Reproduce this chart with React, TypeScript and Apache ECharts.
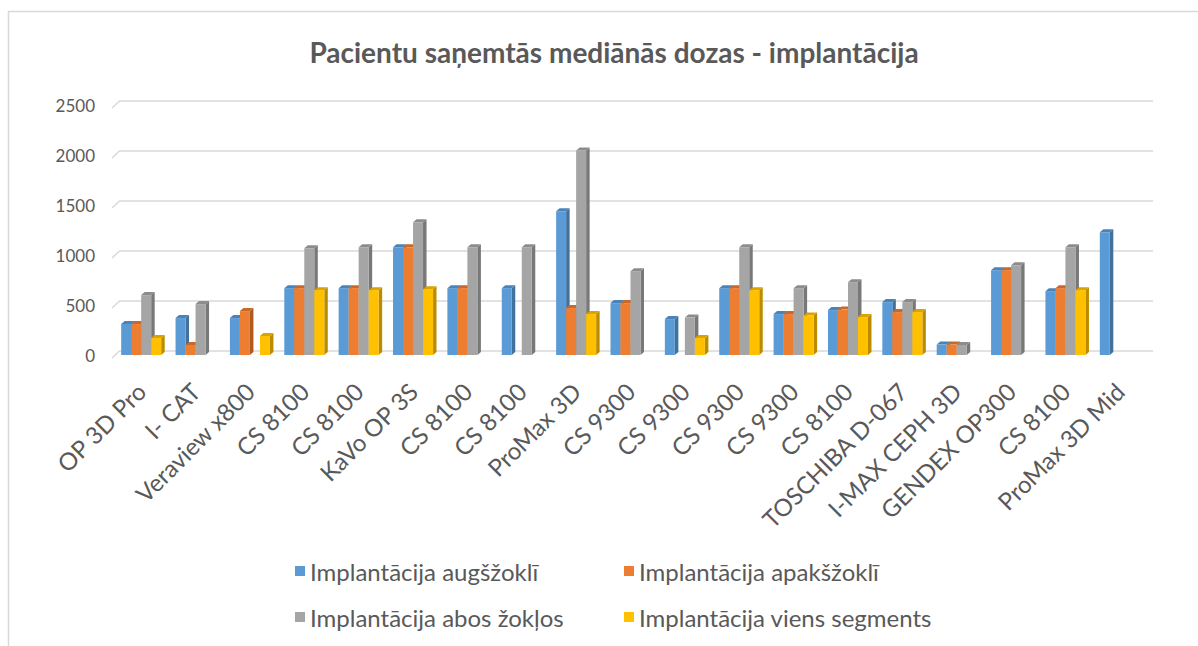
import React, { useEffect, useRef } from "react";
import * as echarts from "echarts";

const categories = [
  "OP 3D Pro", "I- CAT", "Veraview x800", "CS 8100", "CS 8100", "KaVo OP 3S",
  "CS 8100", "CS 8100", "ProMax 3D", "CS 9300", "CS 9300", "CS 9300", "CS 9300",
  "CS 8100", "TOSCHIBA D-067", "I-MAX CEPH 3D", "GENDEX OP300", "CS 8100", "ProMax 3D Mid",
];

const seriesNames = [
  "Implantācija augšžoklī",
  "Implantācija apakšžoklī",
  "Implantācija abos žokļos",
  "Implantācija viens segments",
];

const upperJaw = [310, 370, 370, 670, 670, 1080, 670, 670, 1440, 520, 360, 670, 410, 450, 530, 105, 850, 640, 1230];
const lowerJaw = [310, 100, 440, 670, 670, 1080, 670, null, 470, 520, null, 670, 410, 455, 430, 105, 850, 670, null];
const bothJaws = [600, 510, null, 1070, 1080, 1330, 1080, 1080, 2050, 840, 375, 1080, 670, 730, 530, 100, 900, 1080, null];
const oneSegment = [170, null, 190, 650, 650, 660, null, null, 410, null, 170, 650, 395, 380, 430, null, null, 650, null];

const yTicks = [0, 500, 1000, 1500, 2000, 2500];

const seriesValues = [upperJaw, lowerJaw, bothJaws, oneSegment];
const frontColors = ["#5B9BD5", "#ED7D31", "#A5A5A5", "#FFC000"];
const sideColors = ["#41719C", "#AE5A21", "#787878", "#BC8C00"];
const topColors = ["#4A83B8", "#C8692A", "#8C8C8C", "#D9A300"];

const FONT = "Lato, 'Noto Sans', sans-serif";
const TEXT = "#595959";

export default function App() {
  const ref = useRef<HTMLDivElement>(null);
  useEffect(() => {
    if (!ref.current) return;
    const chart = echarts.init(ref.current, undefined, { renderer: "svg" });

    const barSeries = seriesValues.map((vals, slot) => ({
      type: "custom",
      name: seriesNames[slot],
      xAxisIndex: 1,
      yAxisIndex: 1,
      itemStyle: { color: frontColors[slot] },
      data: vals
        .map((v, i) => [i, v])
        .filter((d) => d[1] !== null && d[1] !== undefined),
      renderItem: (params: any, api: any) => {
        const idx = api.value(0);
        const v = api.value(1);
        if (v == null || isNaN(v)) return null;
        const base = api.coord([idx, 0]);
        const top = api.coord([idx, v]);
        const catW = api.size([1, 0])[0];
        const bw = catW * 0.184;
        const x0 = base[0] - 2 * bw + slot * bw;
        const yb = base[1];
        const yt = top[1];
        const dx = 3.5;
        const dy = 3;
        return {
          type: "group",
          children: [
            {
              type: "polygon",
              shape: { points: [[x0 + bw, yt], [x0 + bw + dx, yt - dy], [x0 + bw + dx, yb - dy], [x0 + bw, yb]] },
              style: { fill: sideColors[slot] },
            },
            {
              type: "polygon",
              shape: { points: [[x0, yt], [x0 + dx, yt - dy], [x0 + bw + dx, yt - dy], [x0 + bw, yt]] },
              style: { fill: topColors[slot] },
            },
            {
              type: "rect",
              shape: { x: x0, y: yt, width: bw, height: yb - yt },
              style: { fill: frontColors[slot] },
            },
          ],
        };
      },
    }));

    const floorSeries = {
      type: "custom",
      xAxisIndex: 0,
      yAxisIndex: 0,
      silent: true,
      data: yTicks.map((t) => [0, t]),
      renderItem: (params: any, api: any) => {
        const y = api.coord([0, api.value(1)])[1];
        const x = params.coordSys.x;
        return {
          type: "line",
          shape: { x1: x - 8, y1: y + 7.5, x2: x, y2: y },
          style: { stroke: "#D9D9D9", lineWidth: 1.5 },
        };
      },
    };

    const legendCommon = {
      orient: "vertical",
      icon: "rect",
      itemWidth: 10,
      itemHeight: 10,
      itemGap: 22,
      textStyle: { fontFamily: FONT, fontSize: 24, color: TEXT },
    };

    chart.setOption({
      animation: false,
      backgroundColor: "#FFFFFF",
      title: {
        text: "Pacientu saņemtās mediānās dozas - implantācija",
        left: 609,
        textAlign: "center",
        top: 33,
        textStyle: { fontFamily: FONT, fontSize: 28, fontWeight: "bold", color: TEXT },
      },
      legend: [
        { ...legendCommon, left: 290, top: 554, data: [seriesNames[0], seriesNames[2]] },
        { ...legendCommon, left: 619, top: 554, data: [seriesNames[1], seriesNames[3]] },
      ],
      graphic: [
        {
          type: "rect",
          shape: { x: 8.5, y: 11.5, width: 1300, height: 800 },
          style: { fill: "none", stroke: "#D9D9D9", lineWidth: 1.5 },
          silent: true,
        },
      ],
      grid: [
        { left: 120, right: 45, top: 100.5, bottom: 646 - 350.5 },
        { left: 114, right: 51, top: 105.5, bottom: 646 - 355 },
      ],
      xAxis: [
        { type: "value", gridIndex: 0, min: 0, max: 1, show: false },
        {
          type: "category",
          gridIndex: 1,
          data: categories,
          axisLine: { show: false },
          axisTick: { show: false },
          axisLabel: {
            interval: 0,
            rotate: 45,
            margin: 32,
            fontFamily: FONT,
            fontSize: 24,
            color: TEXT,
          },
        },
      ],
      yAxis: [
        {
          type: "value",
          gridIndex: 0,
          min: 0,
          max: 2500,
          interval: 500,
          axisLabel: { show: false },
          axisLine: { show: false },
          axisTick: { show: false },
          splitLine: { lineStyle: { color: "#D9D9D9", width: 1.5 } },
        },
        {
          type: "value",
          gridIndex: 1,
          min: 0,
          max: 2500,
          interval: 500,
          axisLine: { show: false },
          axisTick: { show: false },
          splitLine: { show: false },
          axisLabel: {
            margin: 19,
            fontFamily: FONT,
            fontSize: 17,
            color: TEXT,
            padding: [10, 0, 0, 0],
            formatter: (v: number) => String(v),
          },
        },
      ],
      series: [floorSeries, ...barSeries],
    });

    return () => chart.dispose();
  }, []);

  return (
    <div
      ref={ref}
      style={{ position: "fixed", left: 0, top: 0, width: 1198, height: 646 }}
    />
  );
}
